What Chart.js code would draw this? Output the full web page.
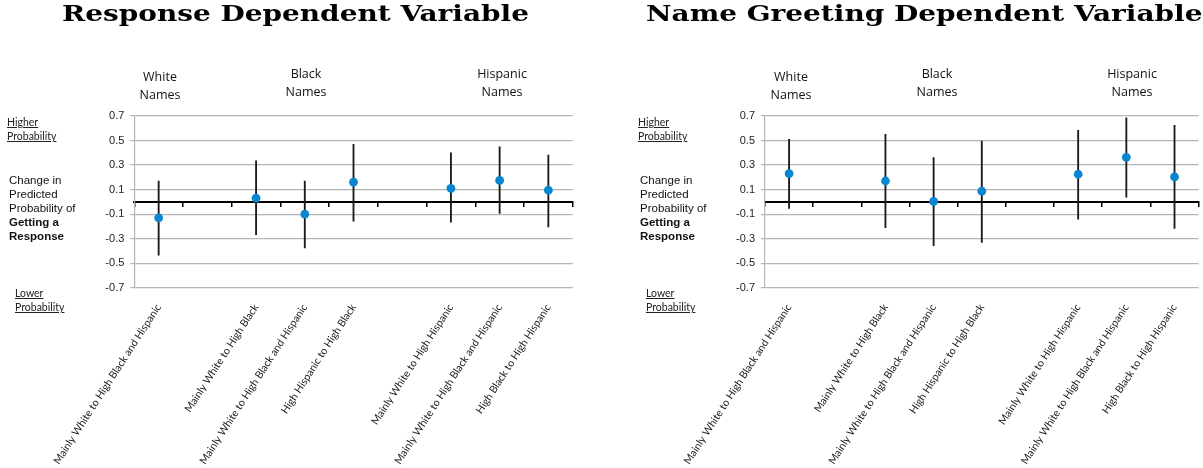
<!DOCTYPE html>
<html><head><meta charset="utf-8">
<script src="https://cdn.jsdelivr.net/npm/chart.js@4.4.0/dist/chart.umd.min.js"></script>
<style>
html,body{margin:0;padding:0;width:1203px;height:468px;overflow:hidden;background:#fff;}
canvas{position:absolute;top:0;}
.t{position:absolute;white-space:nowrap;color:#111;}
.title{font-family:"DejaVu Serif";font-weight:bold;font-size:22px;line-height:22px;transform-origin:0 0;color:#000;}
.grp{font-family:"Open Sans";font-size:12.5px;line-height:17.5px;text-align:center;transform:translateX(-50%);color:#111;}
.prob{font-family:"Lato";font-size:10.5px;line-height:14px;text-decoration:underline;color:#222;}
.side{font-family:"Liberation Sans";font-size:11.5px;line-height:14px;color:#111;}
</style></head><body>
<canvas id="c1" width="600" height="468" style="left:0"></canvas>
<canvas id="c2" width="603" height="468" style="left:600px"></canvas>

<div id="t1" class="t title" style="left:62px;top:2px">Response Dependent Variable</div>
<div id="t2" class="t title" style="left:646px;top:2px">Name Greeting Dependent Variable</div>

<div class="t grp" style="left:160px;top:68px">White<br>Names</div>
<div class="t grp" style="left:306px;top:65px">Black<br>Names</div>
<div class="t grp" style="left:502px;top:65px">Hispanic<br>Names</div>
<div class="t grp" style="left:791px;top:68px">White<br>Names</div>
<div class="t grp" style="left:937px;top:65px">Black<br>Names</div>
<div class="t grp" style="left:1132px;top:65px">Hispanic<br>Names</div>

<div class="t prob" style="left:7px;top:115px">Higher<br>Probability</div>
<div class="t side" style="left:9px;top:173px">Change in<br>Predicted<br>Probability of<br><b>Getting a</b><br><b>Response</b></div>
<div class="t prob" style="left:15px;top:286px">Lower<br>Probability</div>

<div class="t prob" style="left:638px;top:115px">Higher<br>Probability</div>
<div class="t side" style="left:640px;top:173px">Change in<br>Predicted<br>Probability of<br><b>Getting a</b><br><b>Response</b></div>
<div class="t prob" style="left:646px;top:286px">Lower<br>Probability</div>

<script>
const categories = [
  'Mainly White to High Black and Hispanic', '',
  'Mainly White to High Black', 'Mainly White to High Black and Hispanic', 'High Hispanic to High Black', '',
  'Mainly White to High Hispanic', 'Mainly White to High Black and Hispanic', 'High Black to High Hispanic'
];
const yTicks = [-0.7, -0.5, -0.3, -0.1, 0.1, 0.3, 0.5, 0.7];

const responseEst  = [-0.13, null, 0.03, -0.10, 0.16, null, 0.11, 0.175, 0.095];
const responseLow  = [-0.435, null, -0.267, -0.376, -0.158, null, -0.166, -0.095, -0.204];
const responseHigh = [0.169, null, 0.335, 0.169, 0.468, null, 0.40, 0.449, 0.381];

const greetEst  = [0.23, null, 0.17, 0.003, 0.087, null, 0.225, 0.363, 0.203];
const greetLow  = [-0.054, null, -0.211, -0.358, -0.33, null, -0.141, 0.038, -0.217];
const greetHigh = [0.509, null, 0.55, 0.36, 0.496, null, 0.583, 0.686, 0.623];

// scale titles to target width
(function(){
  const t1 = document.getElementById('t1'), t2 = document.getElementById('t2');
  const s = 467 / t1.getBoundingClientRect().width;
  t1.style.transform = 'scaleX(' + s + ')';
  t2.style.transform = 'scaleX(' + s + ')';
})();

function makeChart(id, est, low, high, yWidth, padRight) {
  const ranges = est.map((v, i) => (low[i] == null ? null : [low[i], high[i]]));
  return new Chart(document.getElementById(id), {
    type: 'bar',
    data: {
      labels: categories,
      datasets: [
        {
          type: 'line', data: est, showLine: false, order: 0,
          pointRadius: 4.4, pointBackgroundColor: '#0a86d0', pointBorderWidth: 0,
          pointHoverRadius: 4.4
        },
        {
          type: 'bar', data: ranges, order: 1, barThickness: 1.2,
          backgroundColor: '#1a1a1a', borderWidth: 0
        }
      ]
    },
    options: {
      responsive: false, animation: false, devicePixelRatio: 1,
      layout: { padding: { top: 116, right: padRight, left: 0, bottom: 0 } },
      plugins: { legend: { display: false }, tooltip: { enabled: false } },
      scales: {
        x: {
          type: 'category', offset: true,
          grid: { display: false }, border: { display: false },
          ticks: {
            autoSkip: false, minRotation: 57, maxRotation: 57, padding: 6,
            color: '#222', font: { family: 'Lato', size: 10.5 }
          },
          afterFit(s) { s.height = 468 - 287.7; }
        },
        x2: {
          type: 'category', offset: true, position: { y: 0 },
          grid: { offset: true, drawOnChartArea: false, drawTicks: true, tickLength: 4, color: '#000', lineWidth: 1.5 },
          border: { color: '#000', width: 2 },
          ticks: { display: false }
        },
        y: {
          min: -0.7, max: 0.7,
          afterBuildTicks(s) { s.ticks = yTicks.map(v => ({ value: v })); },
          grid: { color: '#b5b5b5', lineWidth: 1.2, tickLength: 4 },
          border: { color: '#b5b5b5', width: 1.2 },
          ticks: {
            padding: 6, color: '#222', font: { family: 'Liberation Sans', size: 11 },
            callback: v => Number(v).toFixed(1)
          },
          afterFit(s) { s.width = yWidth; }
        }
      }
    }
  });
}

makeChart('c1', responseEst, responseLow, responseHigh, 134.3, 27.3);
makeChart('c2', greetEst, greetLow, greetHigh, 165, 0.4);
</script>
</body></html>
